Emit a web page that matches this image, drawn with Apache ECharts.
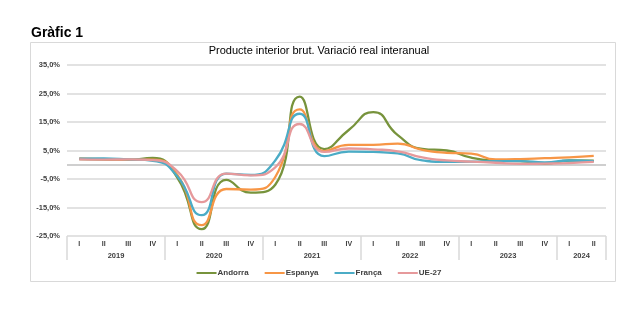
<!DOCTYPE html>
<html>
<head>
<meta charset="utf-8">
<script src="https://cdn.jsdelivr.net/npm/echarts@6/dist/echarts.min.js"></script>
<style>
  html, body { margin: 0; padding: 0; background: #ffffff; }
  #chart { width: 638px; height: 328px; }
</style>
</head>
<body>
<div id="chart"></div>
<script>
// Year-on-year real GDP growth (%), quarterly, 2019 I – 2024 II
const years = ['2019', '2020', '2021', '2022', '2023', '2024'];
const quartersPerYear = [4, 4, 4, 4, 4, 2];
const quarterNames = ['I', 'II', 'III', 'IV'];

const andorra = [2.0, 1.8, 1.7, 2.4, -4.5, -22.6, -5.3, -9.8, -7.0, 23.9, 5.5, 12.2, 18.5, 10.4, 5.6, 5.0, 2.5, 1.5, 1.3, 0.4, 1.5, 1.4];
const espanya = [2.2, 2.0, 1.8, 1.8, -3.5, -21.2, -8.5, -8.7, -4.3, 19.4, 4.8, 7.0, 7.0, 7.4, 5.2, 4.2, 3.9, 1.9, 2.0, 2.3, 2.6, 3.1];
const franca  = [2.1, 2.2, 1.9, 1.4, -4.0, -17.7, -3.1, -3.6, 1.5, 17.9, 3.0, 4.6, 4.5, 4.0, 1.5, 1.0, 1.1, 1.3, 1.3, 0.8, 1.5, 1.3];
const ue27    = [1.9, 1.8, 1.9, 1.6, -2.2, -13.1, -3.1, -3.7, -0.9, 14.3, 4.5, 5.7, 5.4, 4.7, 2.6, 1.5, 1.1, 0.7, 0.3, 0.4, 0.6, 1.0];

const yMin = -25, yMax = 35, yStep = 5;

// Quarter labels along the lower axis, plus the year blocks beneath them
const quarterLabels = [];
const yearBounds = [0];
const yearCenters = [];
quartersPerYear.forEach(function (n) {
  for (let q = 0; q < n; q++) quarterLabels.push(quarterNames[q]);
  const start = yearBounds[yearBounds.length - 1];
  yearBounds.push(start + n);
  yearCenters.push(start + n / 2);
});
const totalQuarters = quarterLabels.length;

// Gridlines every 10 points starting at -25, with the zero line a bit darker
const gridColors = [];
for (let v = yMin; v <= yMax; v += yStep) {
  if (v === 0) gridColors.push('#bfbfbf');
  else if (Math.abs(v) % 10 === 5) gridColors.push('#d9d9d9');
  else gridColors.push('rgba(0,0,0,0)');
}

const FONT = 'Liberation Sans, Arial, sans-serif';
const TEXT = '#404040';

const chart = echarts.init(document.getElementById('chart'), null, { renderer: 'canvas' });

function lineSeries(name, data, color) {
  return {
    name: name,
    type: 'line',
    data: data,
    xAxisIndex: 0,
    yAxisIndex: 0,
    smooth: 0.55,
    showSymbol: false,
    symbol: 'none',
    lineStyle: { color: color, width: 2.3 },
    itemStyle: { color: color },
    emphasis: { disabled: true }
  };
}

chart.setOption({
  animation: false,
  backgroundColor: '#ffffff',
  title: [
    {
      text: 'Gràfic 1',
      left: 26, top: 21,
      textStyle: { fontFamily: FONT, fontSize: 14, fontWeight: 'bold', color: '#000000' }
    },
    {
      text: 'Producte interior brut. Variació real interanual',
      left: 'center', top: 40,
      textStyle: { fontFamily: FONT, fontSize: 11, fontWeight: 'normal', color: '#000000' }
    }
  ],
  graphic: [
    {
      type: 'rect',
      silent: true,
      z: -1,
      shape: { x: 30.5, y: 42.5, width: 585, height: 239 },
      style: { fill: 'none', stroke: '#d9d9d9', lineWidth: 1 }
    }
  ],
  legend: {
    top: 264,
    left: 'center',
    icon: 'rect',
    itemWidth: 20,
    itemHeight: 2,
    itemGap: 16,
    textStyle: { fontFamily: FONT, fontSize: 8, fontWeight: 'bold', color: TEXT, padding: [0, 0, 0, -4] },
    data: ['Andorra', 'Espanya', 'França', 'UE-27']
  },
  grid: { left: 67, right: 32, top: 65, bottom: 92, containLabel: false },
  xAxis: [
    {
      type: 'category',
      data: quarterLabels,
      position: 'bottom',
      boundaryGap: true,
      axisLine: { show: false, onZero: false },
      axisTick: { show: false },
      splitLine: { show: false },
      axisLabel: {
        interval: 0,
        margin: 5,
        fontFamily: FONT, fontSize: 7, fontWeight: 'bold', color: TEXT
      }
    },
    {
      type: 'value',
      position: 'bottom',
      min: 0,
      max: totalQuarters,
      axisLine: { show: false, onZero: false },
      splitLine: { show: false },
      axisTick: {
        show: true,
        customValues: yearBounds,
        length: 24,
        lineStyle: { color: '#d9d9d9', width: 1.5 }
      },
      axisLabel: {
        show: true,
        customValues: yearCenters,
        margin: 16,
        formatter: function (v) {
          const i = yearCenters.indexOf(v);
          return i >= 0 ? years[i] : '';
        },
        fontFamily: FONT, fontSize: 7.5, fontWeight: 'bold', color: TEXT
      }
    }
  ],
  yAxis: {
    type: 'value',
    min: yMin,
    max: yMax,
    interval: yStep,
    axisLine: { show: false },
    axisTick: { show: false },
    splitLine: { show: true, lineStyle: { color: gridColors, width: 1.5 } },
    axisLabel: {
      margin: 7,
      formatter: function (v) {
        if (Math.abs(v) % 10 !== 5) return '';
        return v.toFixed(1).replace('.', ',') + '%';
      },
      fontFamily: FONT, fontSize: 7.5, fontWeight: 'bold', color: TEXT
    }
  },
  series: [
    lineSeries('Andorra', andorra, '#77933c'),
    lineSeries('Espanya', espanya, '#f79646'),
    lineSeries('França', franca, '#4bacc6'),
    lineSeries('UE-27', ue27, '#e6999b')
  ]
});
</script>
</body>
</html>
